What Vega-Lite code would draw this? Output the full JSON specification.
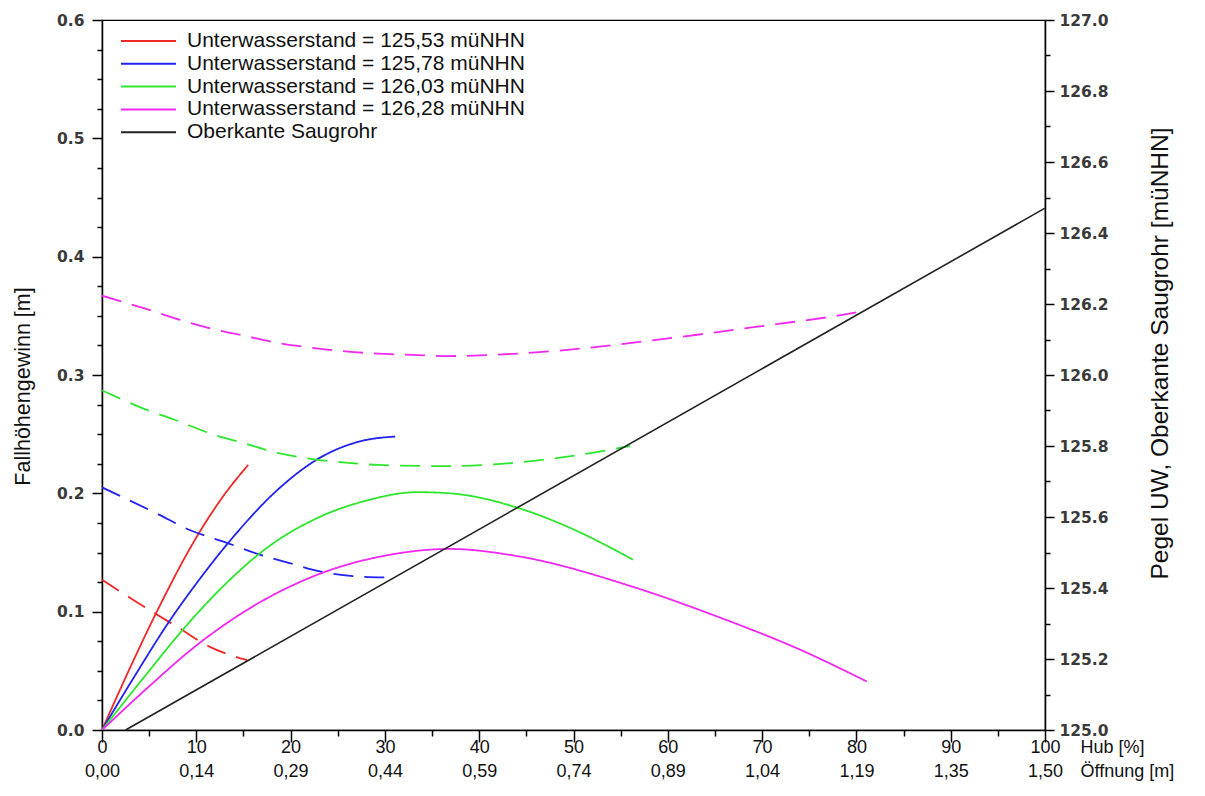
{
  "$schema": "https://vega.github.io/schema/vega-lite/v6.json",
  "autosize": "none",
  "width": 943,
  "height": 710,
  "padding": {"left": 102, "top": 20, "right": 160, "bottom": 66},
  "background": "white",
  "config": {
    "view": {"stroke": "black", "strokeWidth": 1.2},
    "font": "Liberation Sans",
    "axis": {"domainColor": "black", "domainWidth": 1.5, "tickColor": "black", "tickWidth": 1.5, "grid": false}
  },
  "datasets": {
    "curves": [
      {"x": 0, "y": 0, "s": "Unterwasserstand = 125,53 müNHN", "t": "solid"},
      {"x": 3.0, "y": 0.053, "s": "Unterwasserstand = 125,53 müNHN", "t": "solid"},
      {"x": 6.0, "y": 0.103, "s": "Unterwasserstand = 125,53 müNHN", "t": "solid"},
      {"x": 10.1, "y": 0.164, "s": "Unterwasserstand = 125,53 müNHN", "t": "solid"},
      {"x": 12.8, "y": 0.197, "s": "Unterwasserstand = 125,53 müNHN", "t": "solid"},
      {"x": 15.5, "y": 0.224, "s": "Unterwasserstand = 125,53 müNHN", "t": "solid"},
      {"x": 0, "y": 0.127, "s": "Unterwasserstand = 125,53 müNHN", "t": "dashed"},
      {"x": 3.7, "y": 0.108, "s": "Unterwasserstand = 125,53 müNHN", "t": "dashed"},
      {"x": 8.0, "y": 0.087, "s": "Unterwasserstand = 125,53 müNHN", "t": "dashed"},
      {"x": 11.5, "y": 0.070, "s": "Unterwasserstand = 125,53 müNHN", "t": "dashed"},
      {"x": 15.4, "y": 0.059, "s": "Unterwasserstand = 125,53 müNHN", "t": "dashed"},
      {"x": 0, "y": 0, "s": "Unterwasserstand = 125,78 müNHN", "t": "solid"},
      {"x": 3.5, "y": 0.046, "s": "Unterwasserstand = 125,78 müNHN", "t": "solid"},
      {"x": 6.9, "y": 0.089, "s": "Unterwasserstand = 125,78 müNHN", "t": "solid"},
      {"x": 10.4, "y": 0.128, "s": "Unterwasserstand = 125,78 müNHN", "t": "solid"},
      {"x": 13.9, "y": 0.163, "s": "Unterwasserstand = 125,78 müNHN", "t": "solid"},
      {"x": 18.9, "y": 0.205, "s": "Unterwasserstand = 125,78 müNHN", "t": "solid"},
      {"x": 23.1, "y": 0.230, "s": "Unterwasserstand = 125,78 müNHN", "t": "solid"},
      {"x": 27.4, "y": 0.244, "s": "Unterwasserstand = 125,78 müNHN", "t": "solid"},
      {"x": 31.1, "y": 0.248, "s": "Unterwasserstand = 125,78 müNHN", "t": "solid"},
      {"x": 0, "y": 0.205, "s": "Unterwasserstand = 125,78 müNHN", "t": "dashed"},
      {"x": 5.8, "y": 0.183, "s": "Unterwasserstand = 125,78 müNHN", "t": "dashed"},
      {"x": 9.3, "y": 0.169, "s": "Unterwasserstand = 125,78 müNHN", "t": "dashed"},
      {"x": 13.3, "y": 0.158, "s": "Unterwasserstand = 125,78 müNHN", "t": "dashed"},
      {"x": 16.8, "y": 0.148, "s": "Unterwasserstand = 125,78 müNHN", "t": "dashed"},
      {"x": 19.9, "y": 0.141, "s": "Unterwasserstand = 125,78 müNHN", "t": "dashed"},
      {"x": 23.1, "y": 0.134, "s": "Unterwasserstand = 125,78 müNHN", "t": "dashed"},
      {"x": 26.6, "y": 0.130, "s": "Unterwasserstand = 125,78 müNHN", "t": "dashed"},
      {"x": 30.3, "y": 0.129, "s": "Unterwasserstand = 125,78 müNHN", "t": "dashed"},
      {"x": 0, "y": 0, "s": "Unterwasserstand = 126,03 müNHN", "t": "solid"},
      {"x": 4.6, "y": 0.046, "s": "Unterwasserstand = 126,03 müNHN", "t": "solid"},
      {"x": 8.6, "y": 0.085, "s": "Unterwasserstand = 126,03 müNHN", "t": "solid"},
      {"x": 13.3, "y": 0.125, "s": "Unterwasserstand = 126,03 müNHN", "t": "solid"},
      {"x": 17.5, "y": 0.154, "s": "Unterwasserstand = 126,03 müNHN", "t": "solid"},
      {"x": 22.8, "y": 0.179, "s": "Unterwasserstand = 126,03 müNHN", "t": "solid"},
      {"x": 28.1, "y": 0.194, "s": "Unterwasserstand = 126,03 müNHN", "t": "solid"},
      {"x": 33.4, "y": 0.201, "s": "Unterwasserstand = 126,03 müNHN", "t": "solid"},
      {"x": 36.9, "y": 0.200, "s": "Unterwasserstand = 126,03 müNHN", "t": "solid"},
      {"x": 44.0, "y": 0.188, "s": "Unterwasserstand = 126,03 müNHN", "t": "solid"},
      {"x": 49.3, "y": 0.172, "s": "Unterwasserstand = 126,03 müNHN", "t": "solid"},
      {"x": 56.3, "y": 0.144, "s": "Unterwasserstand = 126,03 müNHN", "t": "solid"},
      {"x": 0, "y": 0.287, "s": "Unterwasserstand = 126,03 müNHN", "t": "dashed"},
      {"x": 4.6, "y": 0.271, "s": "Unterwasserstand = 126,03 müNHN", "t": "dashed"},
      {"x": 8.1, "y": 0.261, "s": "Unterwasserstand = 126,03 müNHN", "t": "dashed"},
      {"x": 11.7, "y": 0.250, "s": "Unterwasserstand = 126,03 müNHN", "t": "dashed"},
      {"x": 15.2, "y": 0.242, "s": "Unterwasserstand = 126,03 müNHN", "t": "dashed"},
      {"x": 18.7, "y": 0.234, "s": "Unterwasserstand = 126,03 müNHN", "t": "dashed"},
      {"x": 22.3, "y": 0.229, "s": "Unterwasserstand = 126,03 müNHN", "t": "dashed"},
      {"x": 25.8, "y": 0.226, "s": "Unterwasserstand = 126,03 müNHN", "t": "dashed"},
      {"x": 29.3, "y": 0.224, "s": "Unterwasserstand = 126,03 müNHN", "t": "dashed"},
      {"x": 36.4, "y": 0.223, "s": "Unterwasserstand = 126,03 müNHN", "t": "dashed"},
      {"x": 44.0, "y": 0.226, "s": "Unterwasserstand = 126,03 müNHN", "t": "dashed"},
      {"x": 51.0, "y": 0.233, "s": "Unterwasserstand = 126,03 müNHN", "t": "dashed"},
      {"x": 56.0, "y": 0.240, "s": "Unterwasserstand = 126,03 müNHN", "t": "dashed"},
      {"x": 0, "y": 0, "s": "Unterwasserstand = 126,28 müNHN", "t": "solid"},
      {"x": 4.6, "y": 0.034, "s": "Unterwasserstand = 126,28 müNHN", "t": "solid"},
      {"x": 10.1, "y": 0.072, "s": "Unterwasserstand = 126,28 müNHN", "t": "solid"},
      {"x": 15.7, "y": 0.103, "s": "Unterwasserstand = 126,28 müNHN", "t": "solid"},
      {"x": 23.1, "y": 0.132, "s": "Unterwasserstand = 126,28 müNHN", "t": "solid"},
      {"x": 29.8, "y": 0.147, "s": "Unterwasserstand = 126,28 müNHN", "t": "solid"},
      {"x": 36.9, "y": 0.153, "s": "Unterwasserstand = 126,28 müNHN", "t": "solid"},
      {"x": 44.0, "y": 0.147, "s": "Unterwasserstand = 126,28 müNHN", "t": "solid"},
      {"x": 56.3, "y": 0.121, "s": "Unterwasserstand = 126,28 müNHN", "t": "solid"},
      {"x": 65.2, "y": 0.096, "s": "Unterwasserstand = 126,28 müNHN", "t": "solid"},
      {"x": 74.0, "y": 0.068, "s": "Unterwasserstand = 126,28 müNHN", "t": "solid"},
      {"x": 81.1, "y": 0.041, "s": "Unterwasserstand = 126,28 müNHN", "t": "solid"},
      {"x": 0, "y": 0.367, "s": "Unterwasserstand = 126,28 müNHN", "t": "dashed"},
      {"x": 4.6, "y": 0.356, "s": "Unterwasserstand = 126,28 müNHN", "t": "dashed"},
      {"x": 8.1, "y": 0.347, "s": "Unterwasserstand = 126,28 müNHN", "t": "dashed"},
      {"x": 11.7, "y": 0.339, "s": "Unterwasserstand = 126,28 müNHN", "t": "dashed"},
      {"x": 15.2, "y": 0.333, "s": "Unterwasserstand = 126,28 müNHN", "t": "dashed"},
      {"x": 18.7, "y": 0.327, "s": "Unterwasserstand = 126,28 müNHN", "t": "dashed"},
      {"x": 22.3, "y": 0.323, "s": "Unterwasserstand = 126,28 müNHN", "t": "dashed"},
      {"x": 25.8, "y": 0.320, "s": "Unterwasserstand = 126,28 müNHN", "t": "dashed"},
      {"x": 29.3, "y": 0.318, "s": "Unterwasserstand = 126,28 müNHN", "t": "dashed"},
      {"x": 32.9, "y": 0.317, "s": "Unterwasserstand = 126,28 müNHN", "t": "dashed"},
      {"x": 36.4, "y": 0.316, "s": "Unterwasserstand = 126,28 müNHN", "t": "dashed"},
      {"x": 47.5, "y": 0.320, "s": "Unterwasserstand = 126,28 müNHN", "t": "dashed"},
      {"x": 58.1, "y": 0.329, "s": "Unterwasserstand = 126,28 müNHN", "t": "dashed"},
      {"x": 68.7, "y": 0.340, "s": "Unterwasserstand = 126,28 müNHN", "t": "dashed"},
      {"x": 79.4, "y": 0.352, "s": "Unterwasserstand = 126,28 müNHN", "t": "dashed"},
      {"x": 80.8, "y": 0.354, "s": "Unterwasserstand = 126,28 müNHN", "t": "dashed"}
    ],
    "saugrohr": [
      {"x": 2.5, "h": 125.0, "s": "Oberkante Saugrohr"},
      {"x": 100, "h": 126.47, "s": "Oberkante Saugrohr"}
    ]
  },
  "layer": [
    {
      "data": {"name": "curves"},
      "mark": {"type": "line", "strokeWidth": 1.8, "clip": true, "interpolate": "monotone"},
      "encoding": {
        "x": {
          "field": "x", "type": "quantitative",
          "scale": {"domain": [0, 100], "nice": false, "zero": false},
          "axis": {
            "values": [0,5,10,15,20,25,30,35,40,45,50,55,60,65,70,75,80,85,90,95,100],
            "tickSize": {"condition": {"test": "datum.value % 10 === 0", "value": 12}, "value": 6},
            "labelExpr": "datum.value % 10 === 0 ? [datum.label, ['0,00','0,14','0,29','0,44','0,59','0,74','0,89','1,04','1,19','1,35','1,50'][round(datum.value/10)]] : ''",
            "labelFontSize": 18, "labelColor": "#111", "labelLineHeight": 24, "labelPadding": -4,
            "labelFlush": false, "labelOverlap": false, "labelBaseline": "top",
            "title": ["Hub [%]", "Öffnung [m]"],
            "titleX": 978, "titleY": 8, "titleAlign": "left", "titleBaseline": "top",
            "titleFontSize": 18, "titleFontWeight": "normal", "titleColor": "#111", "titleLineHeight": 24
          }
        },
        "y": {
          "field": "y", "type": "quantitative",
          "scale": {"domain": [0, 0.6], "nice": false},
          "axis": {
            "orient": "left",
            "values": [0,0.025,0.05,0.075,0.1,0.125,0.15,0.175,0.2,0.225,0.25,0.275,0.3,0.325,0.35,0.375,0.4,0.425,0.45,0.475,0.5,0.525,0.55,0.575,0.6],
            "tickSize": {"condition": {"test": "abs(datum.value*10 - round(datum.value*10)) < 0.001", "value": 10}, "value": 5},
            "labelExpr": "abs(datum.value*10 - round(datum.value*10)) < 0.001 ? format(datum.value, '.1f') : ''",
            "labelFont": "DejaVu Sans", "labelFontWeight": "bold", "labelFontSize": 15.5, "labelColor": "#3a3a3a", "labelPadding": 8,
            "labelFlush": false, "labelOverlap": false,
            "title": "Fallhöhengewinn [m]", "titleFontSize": 21.5, "titleFontWeight": "normal", "titleColor": "#111",
            "titleX": -79, "titleY": 366, "titleAlign": "center", "titleBaseline": "middle", "titleAngle": 270
          }
        },
        "color": {
          "field": "s", "type": "nominal",
          "scale": {
            "domain": ["Unterwasserstand = 125,53 müNHN", "Unterwasserstand = 125,78 müNHN", "Unterwasserstand = 126,03 müNHN", "Unterwasserstand = 126,28 müNHN", "Oberkante Saugrohr"],
            "range": ["#f02828", "#2222f0", "#2ee62e", "#f028f0", "#222222"]
          },
          "legend": {
            "orient": "none", "legendX": 35.5, "legendY": 10, "title": null,
            "symbolType": "M-2.75,0H2.75", "symbolSize": 400, "symbolStrokeWidth": 2,
            "labelFontSize": 21, "labelColor": "#111", "labelOffset": 27.5, "rowPadding": 1.8,
            "labelLimit": 500
          }
        },
        "strokeDash": {
          "field": "t", "type": "nominal",
          "scale": {"domain": ["solid", "dashed"], "range": [[1, 0], [20, 11]]},
          "legend": null
        }
      }
    },
    {
      "data": {"name": "saugrohr"},
      "mark": {"type": "line", "strokeWidth": 1.6},
      "encoding": {
        "x": {"field": "x", "type": "quantitative"},
        "y": {
          "field": "h", "type": "quantitative",
          "scale": {"domain": [125, 127], "nice": false, "zero": false},
          "axis": {
            "orient": "right",
            "values": [125,125.1,125.2,125.3,125.4,125.5,125.6,125.7,125.8,125.9,126,126.1,126.2,126.3,126.4,126.5,126.6,126.7,126.8,126.9,127],
            "tickSize": {"condition": {"test": "abs((datum.value-125)*5 - round((datum.value-125)*5)) < 0.001", "value": 9}, "value": 5},
            "labelExpr": "abs((datum.value-125)*5 - round((datum.value-125)*5)) < 0.001 ? format(datum.value, '.1f') : ''",
            "labelFont": "DejaVu Sans", "labelFontWeight": "bold", "labelFontSize": 15.5, "labelColor": "#3a3a3a", "labelPadding": 5,
            "labelFlush": false, "labelOverlap": false,
            "title": "Pegel UW, Oberkante Saugrohr [müNHN]", "titleAngle": 270, "titleFontSize": 24.5,
            "titleFontWeight": "normal", "titleColor": "#111",
            "titleX": 115, "titleY": 333, "titleAlign": "center", "titleBaseline": "middle"
          }
        },
        "color": {"field": "s", "type": "nominal"}
      }
    }
  ],
  "resolve": {"scale": {"y": "independent"}}
}
